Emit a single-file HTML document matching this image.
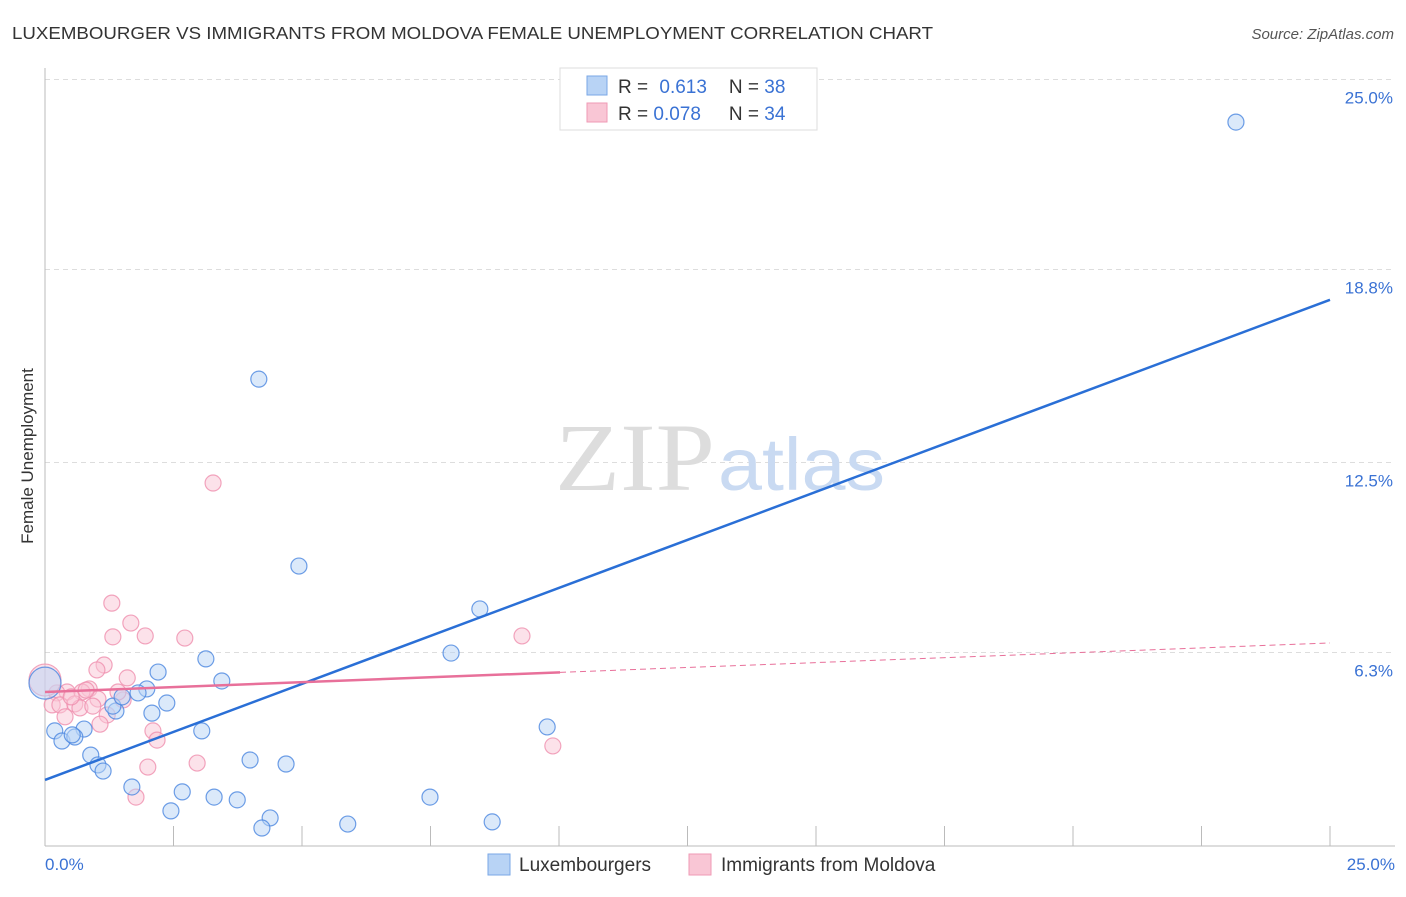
<!DOCTYPE html>
<html><head><meta charset="utf-8"><style>
body{margin:0;background:#fff;font-family:"Liberation Sans",sans-serif;}
</style></head><body>
<svg id="chart" width="1406" height="892" xmlns="http://www.w3.org/2000/svg" font-family="Liberation Sans, sans-serif">
<text x="12" y="39" font-size="17.5" fill="#333" textLength="921" lengthAdjust="spacingAndGlyphs">LUXEMBOURGER VS IMMIGRANTS FROM MOLDOVA FEMALE UNEMPLOYMENT CORRELATION CHART</text>
<text x="1394" y="39" font-size="15" fill="#555" text-anchor="end" font-style="italic">Source: ZipAtlas.com</text>
<g id="grid"></g>
<text x="555" y="490" font-size="96" fill="#ddd" font-family="Liberation Serif, serif" textLength="160" lengthAdjust="spacingAndGlyphs">ZIP</text>
<text x="718" y="490" font-size="74" fill="#c9daf2" textLength="167" lengthAdjust="spacingAndGlyphs">atlas</text>
<text transform="translate(33,456) rotate(-90)" font-size="17" fill="#333" text-anchor="middle">Female Unemployment</text>
<g id="marks"></g>
<g>
<rect x="560" y="68" width="257" height="62" fill="#fff" stroke="#ddd"/>
<rect x="587" y="76" width="20" height="19" fill="#b8d3f5" stroke="#7aa7e6"/>
<rect x="587" y="103" width="20" height="19" fill="#f9c6d5" stroke="#ef9ab5"/>
<text x="618" y="93" font-size="19" fill="#333">R = <tspan fill="#3a72d4" dx="6">0.613</tspan><tspan dx="22" fill="#333">N = </tspan><tspan fill="#3a72d4">38</tspan></text>
<text x="618" y="120" font-size="19" fill="#333">R = <tspan fill="#3a72d4">0.078</tspan><tspan dx="28" fill="#333">N = </tspan><tspan fill="#3a72d4">34</tspan></text>
</g>
<g>
<rect x="488" y="854" width="22" height="21" fill="#b8d3f5" stroke="#7aa7e6"/>
<text x="519" y="871" font-size="19" fill="#333">Luxembourgers</text>
<rect x="689" y="854" width="22" height="21" fill="#f9c6d5" stroke="#ef9ab5"/>
<text x="721" y="871" font-size="19" fill="#333">Immigrants from Moldova</text>
</g>
</svg>
<script>
const yTicks=[25.0,18.8,12.5,6.3];
const yTickLabels=["25.0%","18.8%","12.5%","6.3%"];
const xTickLabels=["0.0%","25.0%"];
const blueX=[23.17,4.16,4.94,8.46,7.90,3.13,2.20,3.44,1.98,1.81,2.37,1.38,1.32,2.08,1.50,0.19,0.76,0.33,0.58,0.89,1.03,1.13,3.05,3.99,4.69,9.77,1.69,2.67,3.29,3.74,7.49,2.45,4.38,4.22,5.89,8.70,0,0.53];
const blueY=[23.61,15.22,9.12,7.72,6.28,6.09,5.66,5.37,5.11,4.98,4.65,4.39,4.55,4.32,4.85,3.74,3.80,3.41,3.54,2.95,2.63,2.43,3.74,2.79,2.66,3.87,1.91,1.75,1.58,1.49,1.58,1.13,0.90,0.57,0.70,0.77,5.30,3.61];
const pinkX=[3.27,1.30,1.67,1.32,1.95,2.72,9.28,1.15,1.01,1.60,0.86,0.43,0.72,0.23,1.03,0.14,0.29,0.58,0.68,0.93,1.52,0.39,1.21,1.07,2.10,2.18,9.88,2.00,2.96,1.77,0,0.51,0.80,1.42];
const pinkY=[11.83,7.91,7.26,6.81,6.84,6.77,6.84,5.89,5.73,5.47,5.11,5.01,5.01,4.98,4.78,4.59,4.59,4.62,4.49,4.55,4.75,4.20,4.26,3.96,3.74,3.44,3.25,2.56,2.69,1.58,5.40,4.85,5.07,5.01];
const blueTrend=[2.14,17.81];
const pinkTrend=[5.01,6.61];
const pinkSolidEnd=10.02;
const X=v=>45+v*1285/25, Y=v=>845.5-v*766/25;
const NS="http://www.w3.org/2000/svg";
function mk(p,t,a){const e=document.createElementNS(NS,t);for(const k in a)e.setAttribute(k,a[k]);p.appendChild(e);return e;}
const grid=document.getElementById('grid'), marks=document.getElementById('marks');
yTicks.forEach((t,i)=>{
 const g=mk(grid,'line',{x1:45,x2:1395,y1:Y(t),y2:Y(t),stroke:'#ddd','stroke-dasharray':'5,4'});
 
 
 const l=mk(grid,'text',{x:1393,y:Y(t)+24,'font-size':17,fill:'#3a72d4','text-anchor':'end'});l.textContent=yTickLabels[i];
 
 
});
const ax=mk(grid,'line',{x1:45,x2:45,y1:68,y2:846,stroke:'#bbb'});


const bx=mk(grid,'line',{x1:45,x2:1395,y1:846,y2:846,stroke:'#bbb'});


for(let i=1;i<=10;i++){const t=mk(grid,'line',{x1:X(i*2.5),x2:X(i*2.5),y1:826,y2:846,stroke:'#bbb'});
 
 }
[[0,'start',45],[25,'end',1395]].forEach((d,i)=>{const l=mk(grid,'text',{x:d[2],y:870,'font-size':17,fill:'#3a72d4','text-anchor':d[1]});l.textContent=xTickLabels[i];
 
 });
function pts(xs,ys,fill,stroke,name){xs.forEach((x,i)=>{const r=(x===0)?16:8;
 const c=mk(marks,'circle',{cx:X(x),cy:Y(ys[i]),r:r,fill:fill,'fill-opacity':0.5,stroke:stroke,'stroke-opacity':0.8,'stroke-width':1.2});
 
 });}
pts(pinkX,pinkY,'#f9c6d5','#ef8fae','moldova-point');
pts(blueX,blueY,'#b8d3f5','#4a86e0','luxembourger-point');
const bl=mk(marks,'line',{x1:X(0),y1:Y(blueTrend[0]),x2:X(25),y2:Y(blueTrend[1]),stroke:'#2a6fd6','stroke-width':2.5});


const py=v=>pinkTrend[0]+(pinkTrend[1]-pinkTrend[0])*v/25;
const pl=mk(marks,'line',{x1:X(0),y1:Y(py(0)),x2:X(pinkSolidEnd),y2:Y(py(pinkSolidEnd)),stroke:'#e8709a','stroke-width':2.5});


const pd=mk(marks,'line',{x1:X(pinkSolidEnd),y1:Y(py(pinkSolidEnd)),x2:X(25),y2:Y(py(25)),stroke:'#e8709a','stroke-width':1,'stroke-dasharray':'6,4'});


</script>
</body></html>
